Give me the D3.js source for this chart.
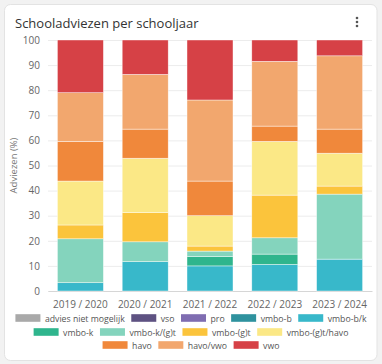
<!DOCTYPE html>
<html><head><meta charset="utf-8">
<script src="https://cdn.jsdelivr.net/npm/d3@7"></script>
<style>
html,body{margin:0;padding:0;background:#f2f2f2;}
svg{display:block;font-family:"Open Sans",sans-serif;}
</style></head>
<body>
<svg id="c" width="382" height="364"></svg>
<script>
const years = ["2019 / 2020","2020 / 2021","2021 / 2022","2022 / 2023","2023 / 2024"];
const seriesNames = ["advies niet mogelijk","vso","pro","vmbo-b","vmbo-b/k","vmbo-k","vmbo-k/(g)t","vmbo-(g)t","vmbo-(g)t/havo","havo","havo/vwo","vwo"];
const seriesColors = ["#a9a9a9","#5e5282","#7f6db1","#2f929e","#38b8ca","#2fb58d","#84d4bd","#fbc43c","#fbe886","#f0883b","#f2a76e","#d64146"];
const legendRows = [5,4,3];
const adviesNietMogelijk = [0,0,0,0,0];
const vso = [0,0,0,0,0];
const pro = [0,0,0,0,0];
const vmboB = [0,0,0,0,0];
const vmboBK = [3.3,11.7,10.0,10.6,12.7];
const vmboK = [0,0,3.7,4.1,0];
const vmboKGT = [17.5,7.9,2.2,6.5,25.9];
const vmboGT = [5.5,11.6,2.0,17.0,3.2];
const vmboGTHavo = [17.5,21.7,12.1,21.4,13.1];
const havo = [15.8,11.6,13.8,6.1,9.6];
const havoVwo = [19.4,21.8,32.3,25.8,29.2];
const vwo = [21.0,13.7,23.9,8.5,6.3];
const yTicks = [0,10,20,30,40,50,60,70,80,90,100];
const title = "Schooladviezen per schooljaar";
const yTitle = "Adviezen (%)";

const values = [adviesNietMogelijk,vso,pro,vmboB,vmboBK,vmboK,vmboKGT,vmboGT,vmboGTHavo,havo,havoVwo,vwo];
const table = years.map((yr,i)=>{const o={year:yr};seriesNames.forEach((s,k)=>o[s]=values[k][i]);return o;});

const svg = d3.select("#c");
svg.append("rect").attr("x",4.5).attr("y",4.5).attr("width",372.5).attr("height",356)
  .attr("rx",6).attr("fill","#fff").attr("stroke","#e3e3e3");
svg.append("text").attr("x",15).attr("y",28).attr("font-size",13).attr("fill","#333").text(title);
[18,22,26].forEach(cy=>svg.append("circle").attr("cx",357).attr("cy",cy).attr("r",1.3).attr("fill","#555"));

const pL=48,pR=372,pT=40,pB=291;
const x = d3.scaleBand().domain(years).range([pL,pR]).paddingInner(0.29).paddingOuter(0.145);
const y = d3.scaleLinear().domain([0,100]).range([pB,pT]);

const g = svg.append("g");
g.append("g").attr("transform",`translate(${pL},0)`)
  .call(d3.axisLeft(y).tickValues(yTicks).tickSize(-(pR-pL)).tickPadding(8))
  .call(a=>{a.select(".domain").remove();
    a.selectAll(".tick line").attr("stroke","#ececec");
    a.selectAll(".tick text").attr("fill","#666").attr("font-size",10).attr("font-family","Open Sans");});
g.append("g").attr("transform",`translate(0,${pB})`)
  .call(d3.axisBottom(x).tickSize(0).tickPadding(10))
  .call(a=>{a.select(".domain").attr("stroke","#d6d6d6");
    a.selectAll(".tick text").attr("fill","#666").attr("font-size",10).attr("font-family","Open Sans");});
svg.append("text").attr("transform",`translate(17,${(pT+pB)/2}) rotate(-90)`)
  .attr("text-anchor","middle").attr("font-size",9.5).attr("fill","#777").text(yTitle);

const stack = d3.stack().keys(seriesNames)(table);
stack.forEach((layer,k)=>{
  g.append("g").attr("fill",seriesColors[k]).selectAll("rect").data(layer).join("rect")
    .attr("x",d=>x(d.data.year)).attr("width",x.bandwidth())
    .attr("y",d=>y(d[1])).attr("height",d=>Math.max(0,y(d[0])-y(d[1])))
    .attr("stroke","#fff").attr("stroke-width",0.6).attr("stroke-opacity",0.7);
});

// legend with fixed rows as in reference
const lg = svg.append("g");
const probe = lg.append("text").attr("font-size",10).attr("font-family","Open Sans").text(seriesNames[0]);
const fs = 10*80/probe.node().getComputedTextLength();
probe.remove();
const items = seriesNames.map((s,k)=>{
  const t = lg.append("text").attr("font-size",fs).attr("fill","#555").attr("font-family","Open Sans").text(s);
  return {s,k,t,w:25+4.5+t.node().getComputedTextLength()};
});
const gap=6.5, rowY=[318,332,345];
let idx=0;
legendRows.forEach((n,ri)=>{
  const r = items.slice(idx,idx+n); idx+=n;
  const tw = d3.sum(r,d=>d.w)+gap*(r.length-1);
  let cx = 191-tw/2;
  const yy = rowY[ri];
  r.forEach(it=>{
    lg.append("rect").attr("x",cx).attr("y",yy-3.8).attr("width",25).attr("height",7.6).attr("fill",seriesColors[it.k]);
    it.t.attr("x",cx+29.5).attr("y",yy+3.5);
    cx+=it.w+gap;
  });
});
</script>
</body></html>
